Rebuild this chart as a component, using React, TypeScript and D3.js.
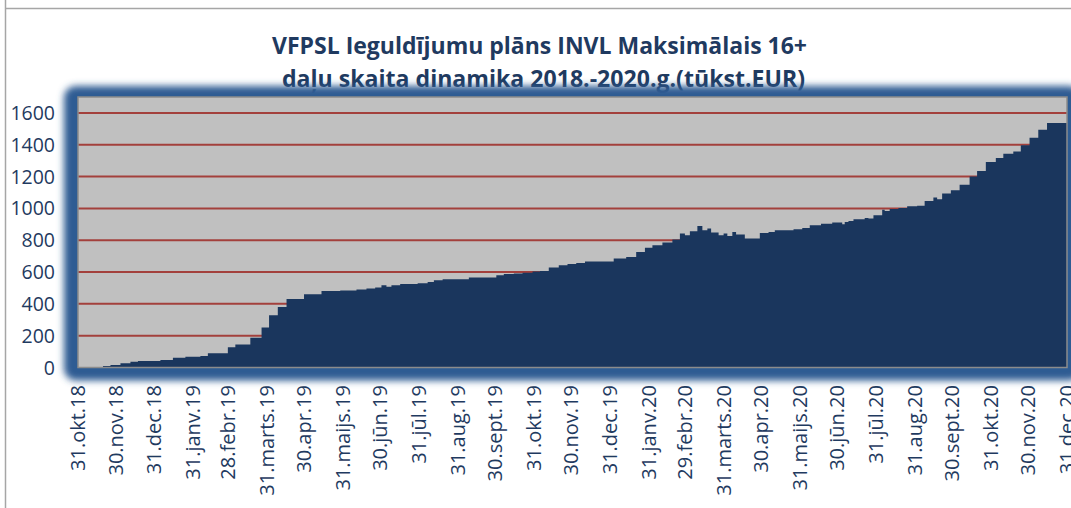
import React from "react";
import * as d3 from "d3";

const titleLines = [
  "VFPSL Ieguldījumu plāns INVL Maksimālais 16+",
  "daļu skaita dinamika 2018.-2020.g.(tūkst.EUR)",
];

const tickDates = [
  "2018-10-31", "2018-11-30", "2018-12-31", "2019-01-31", "2019-02-28", "2019-03-31",
  "2019-04-30", "2019-05-31", "2019-06-30", "2019-07-31", "2019-08-31", "2019-09-30",
  "2019-10-31", "2019-11-30", "2019-12-31", "2020-01-31", "2020-02-29", "2020-03-31",
  "2020-04-30", "2020-05-31", "2020-06-30", "2020-07-31", "2020-08-31", "2020-09-30",
  "2020-10-31", "2020-11-30", "2020-12-31",
];
const tickLabels = [
  "31.okt.18", "30.nov.18", "31.dec.18", "31.janv.19", "28.febr.19", "31.marts.19",
  "30.apr.19", "31.maijs.19", "30.jūn.19", "31.jūl.19", "31.aug.19", "30.sept.19",
  "31.okt.19", "30.nov.19", "31.dec.19", "31.janv.20", "29.febr.20", "31.marts.20",
  "30.apr.20", "31.maijs.20", "30.jūn.20", "31.jūl.20", "31.aug.20", "30.sept.20",
  "31.okt.20", "30.nov.20", "31.dec.20",
];

const yTicks = [0, 200, 400, 600, 800, 1000, 1200, 1400, 1600];

const dates = [
  "2018-11-20", "2018-11-26", "2018-12-04", "2018-12-12", "2018-12-18", "2019-01-05",
  "2019-01-15", "2019-01-25", "2019-02-06", "2019-02-12", "2019-02-28", "2019-03-06",
  "2019-03-18", "2019-03-27", "2019-04-02", "2019-04-09", "2019-04-16", "2019-04-30",
  "2019-05-14", "2019-05-29", "2019-06-11", "2019-06-19", "2019-06-26", "2019-07-01",
  "2019-07-05", "2019-07-09", "2019-07-16", "2019-07-30", "2019-08-07", "2019-08-12",
  "2019-08-19", "2019-09-09", "2019-10-01", "2019-10-07", "2019-10-15", "2019-10-22",
  "2019-10-30", "2019-11-05", "2019-11-12", "2019-11-20", "2019-11-27", "2019-12-04",
  "2019-12-11", "2020-01-03", "2020-01-13", "2020-01-21", "2020-01-28", "2020-02-03",
  "2020-02-11", "2020-02-19", "2020-02-25", "2020-02-29", "2020-03-04", "2020-03-10",
  "2020-03-14", "2020-03-18", "2020-03-21", "2020-03-27", "2020-03-31", "2020-04-03",
  "2020-04-07", "2020-04-10", "2020-04-17", "2020-04-29", "2020-05-06", "2020-05-11",
  "2020-05-26", "2020-06-02", "2020-06-08", "2020-06-17", "2020-06-26", "2020-07-04",
  "2020-07-06", "2020-07-09", "2020-07-13", "2020-07-22", "2020-07-25", "2020-07-29",
  "2020-08-05", "2020-08-07", "2020-08-11", "2020-08-18", "2020-08-25", "2020-09-02",
  "2020-09-08", "2020-09-15", "2020-09-18", "2020-09-22", "2020-09-29", "2020-10-06",
  "2020-10-14", "2020-10-20", "2020-10-27", "2020-11-04", "2020-11-10", "2020-11-18",
  "2020-11-24", "2020-12-01", "2020-12-08", "2020-12-15", "2020-12-31",
];
const values = [
  10, 16, 26, 36, 41, 47,
  62, 68, 72, 89, 127, 145,
  187, 252, 329, 381, 430, 461,
  480, 484, 490, 497, 503, 517,
  507, 517, 524, 530, 538, 549,
  555, 566, 580, 587, 591, 595,
  603, 607, 629, 643, 651, 657,
  666, 685, 695, 726, 752, 768,
  785, 804, 842, 831, 856, 890,
  863, 873, 848, 831, 842, 827,
  852, 836, 810, 846, 852, 863,
  869, 877, 894, 904, 911, 900,
  915, 921, 932, 940, 936, 957,
  992, 984, 996, 1003, 1013, 1017,
  1046, 1068, 1057, 1093, 1114, 1149,
  1201, 1235, 1291, 1316, 1344, 1358,
  1396, 1444, 1494, 1536, 1536,
];

const W = 1071;
const H = 508;
const plot = { left: 78, right: 1067, top: 97, bottom: 367.5 };
const textColor = "#1F3A60";

export default function App() {
  const parse = d3.timeParse("%Y-%m-%d");
  const x = d3
    .scaleTime()
    .domain([parse(tickDates[0])!, parse(tickDates[tickDates.length - 1])!])
    .range([plot.left, plot.right]);
  const y = d3.scaleLinear().domain([0, 1700]).range([plot.bottom, plot.top]);

  const series = dates.map((d, i) => ({ date: parse(d)!, value: values[i] }));
  const areaPath = d3
    .area<{ date: Date; value: number }>()
    .x((d) => x(d.date))
    .y0(y(0))
    .y1((d) => y(d.value))
    .curve(d3.curveStepAfter)(series)!;

  return (
    <svg
      width={W}
      height={H}
      style={{ position: "absolute", left: 0, top: 0, background: "#fff" }}
      fontFamily="'Open Sans', sans-serif"
    >
      <defs>
        <filter id="glow" x="-10%" y="-20%" width="120%" height="140%">
          <feGaussianBlur stdDeviation="3.5" />
        </filter>
      </defs>
      <rect x={0} y={0} width={W} height={H} fill="#fff" />
      <line x1={5.5} y1={0} x2={5.5} y2={H} stroke="#A6A6A6" strokeWidth={1.5} />
      <line x1={5.5} y1={8.5} x2={W} y2={8.5} stroke="#A6A6A6" strokeWidth={1.5} />

      {titleLines.map((t, i) => (
        <text
          key={i}
          x={i === 0 ? 272 : 282}
          y={i === 0 ? 53.5 : 87}
          fontSize={24}
          fontWeight={700}
          fill={textColor}
          textLength={i === 0 ? 535 : 523}
          lengthAdjust="spacingAndGlyphs"
        >
          {t}
        </text>
      ))}

      {/* blue glowing frame */}
      <rect
        x={plot.left - 14}
        y={plot.top - 11}
        width={plot.right - plot.left + 28}
        height={plot.bottom - plot.top + 24}
        rx={12}
        fill="#2F5B93"
        filter="url(#glow)"
      />
      <rect
        x={plot.left}
        y={plot.top}
        width={plot.right - plot.left}
        height={plot.bottom - plot.top}
        fill="#C0C0C0"
      />

      {yTicks
        .filter((v) => v > 0)
        .map((v) => (
          <line
            key={v}
            x1={plot.left}
            x2={plot.right}
            y1={y(v)}
            y2={y(v)}
            stroke="#A3403C"
            strokeWidth={2}
          />
        ))}

      <path d={areaPath} fill="#1A365D" />

      <rect
        x={plot.left}
        y={plot.top}
        width={plot.right - plot.left}
        height={plot.bottom - plot.top}
        fill="none"
        stroke="#8C8C8C"
        strokeWidth={1.5}
      />

      {yTicks.map((v) => (
        <text
          key={v}
          x={55}
          y={y(v)}
          dy="0.36em"
          textAnchor="end"
          fontSize={19.5}
          fill={textColor}
        >
          {v}
        </text>
      ))}

      {tickDates.map((d, i) => {
        const tx = x(parse(d)!);
        return (
          <text
            key={d}
            transform={`translate(${tx},385) rotate(-90)`}
            dy="0.36em"
            textAnchor="end"
            fontSize={20}
            fill={textColor}
          >
            {tickLabels[i]}
          </text>
        );
      })}
    </svg>
  );
}
